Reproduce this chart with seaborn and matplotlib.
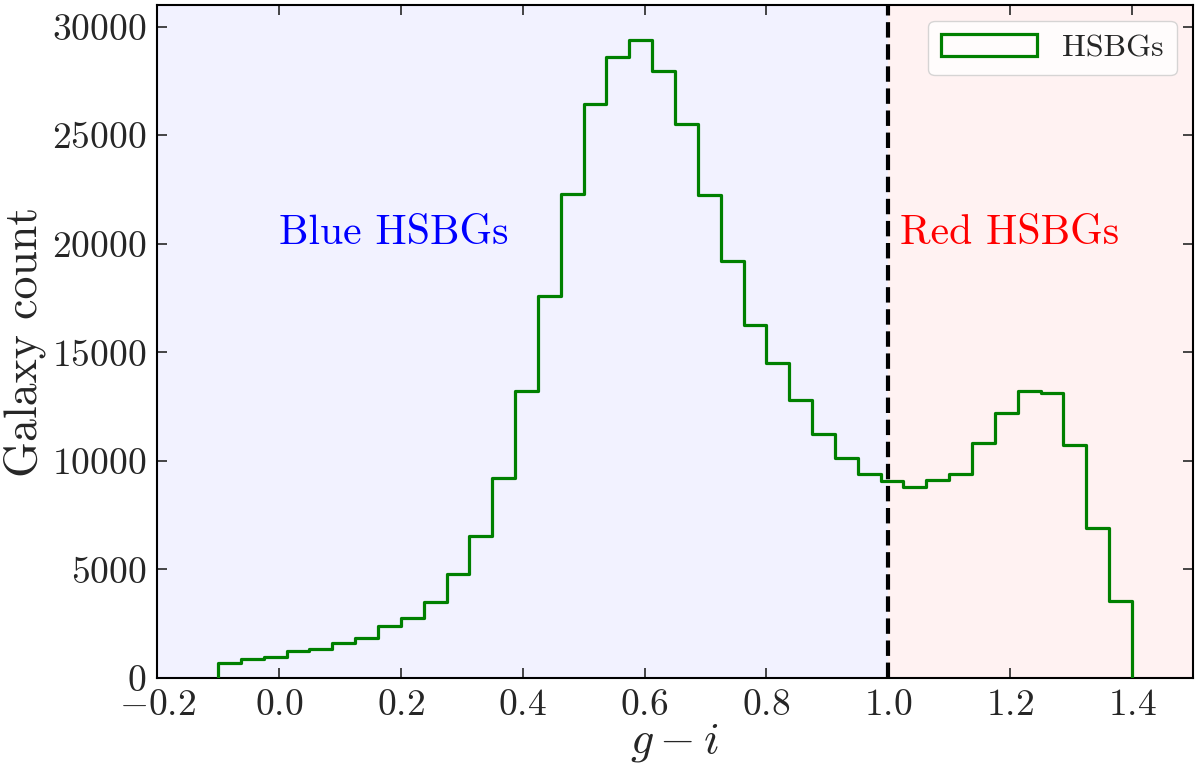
"""
HSBG 颜色分布直方图 (g - i)
"""
import matplotlib
matplotlib.use("Agg")
import matplotlib.pyplot as plt
from matplotlib.patches import Patch
import numpy as np
import pandas as pd
import seaborn as sns

# 直方图分箱：-0.1 到 1.4，共 40 个
bin_edges = np.linspace(-0.1, 1.4, 41)
counts = [
    700, 890, 965, 1240, 1350, 1630, 1860, 2410, 2780, 3490,
    4780, 6550, 9220, 13200, 17600, 22300, 26460, 28600, 29400, 27960,
    25530, 22270, 19200, 16240, 14500, 12810, 11260, 10120, 9380, 9090,
    8810, 9120, 9400, 10810, 12230, 13240, 13150, 10730, 6890, 3550,
]
color_cut = 1.0
region_labels = ["Blue HSBGs", "Red HSBGs"]
series_label = "HSBGs"

sns.set_style("ticks")
plt.rcParams["font.family"] = ["cmr10", "DejaVu Serif"]
plt.rcParams["mathtext.fontset"] = "cm"
plt.rcParams["axes.formatter.use_mathtext"] = True
plt.rcParams["axes.unicode_minus"] = True

df = pd.DataFrame({
    "gi": 0.5 * (bin_edges[:-1] + bin_edges[1:]),
    "n": counts,
})

fig = plt.figure(figsize=(12, 7.78), dpi=100)
ax = fig.add_axes([0.131, 0.1285, 0.863, 0.865])

ax.axvspan(-0.2, color_cut, color="blue", alpha=0.05, lw=0, zorder=0)
ax.axvspan(color_cut, 1.5, color="red", alpha=0.05, lw=0, zorder=0)

sns.histplot(data=df, x="gi", weights="n", bins=list(bin_edges), element="step",
             fill=False, color="green", linewidth=2.3, ax=ax, zorder=3)
# 两端竖线落到 0
ax.vlines([bin_edges[0], bin_edges[-1]], 0, [counts[0], counts[-1]],
          color="green", lw=2.3, zorder=3)

ax.axvline(color_cut, color="black", ls="--", lw=3.0, zorder=4)

ax.text(0.0, 20000, region_labels[0], color="blue", fontsize=30)
ax.text(1.02, 20000, region_labels[1], color="red", fontsize=30)

ax.set_xlim(-0.2, 1.5)
ax.set_ylim(0, 31000)
ax.set_xticks(np.arange(-0.2, 1.41, 0.2))
ax.set_yticks(np.arange(0, 30001, 5000))
ax.tick_params(direction="in", top=True, right=True, length=7, width=1.2,
               labelsize=27, pad=8)
for sp in ax.spines.values():
    sp.set_linewidth(1.5)
    sp.set_color("black")

ax.set_xlabel("$g-i$", fontsize=33, labelpad=0)
ax.set_ylabel("Galaxy count", fontsize=33)

handle = Patch(facecolor="none", edgecolor="green", lw=2.3, label=series_label)
ax.legend(handles=[handle], loc="upper right", fontsize=23, handlelength=3.0,
          fancybox=True, framealpha=0.8, edgecolor="0.8")

fig.savefig("out.png", dpi=100)
plt.close(fig)
